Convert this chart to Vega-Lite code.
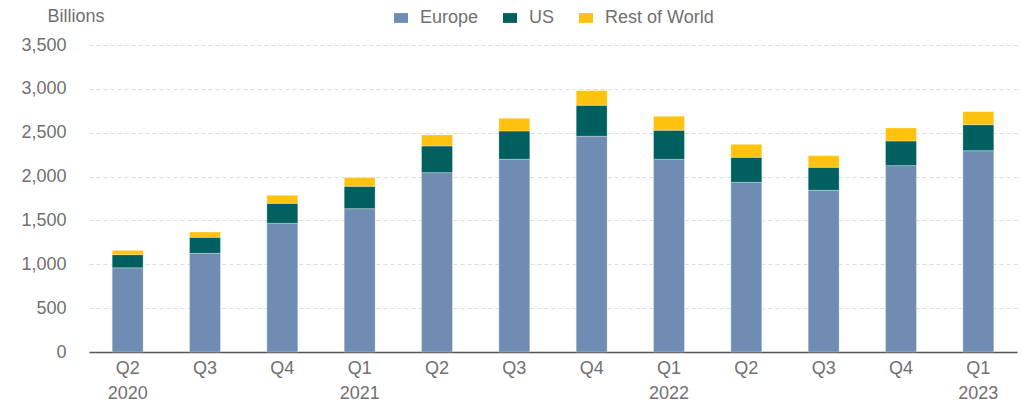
{
  "$schema": "https://vega.github.io/schema/vega-lite/v6.json",
  "width": 928,
  "height": 307,
  "autosize": {"type": "none"},
  "padding": {"left": 89, "top": 45, "right": 5, "bottom": 55},
  "config": {"view": {"stroke": null}, "font": "Liberation Sans"},
  "data": {
    "values": [
      {"period": "Q2 2020", "region": "Europe", "k": 1, "value": 960},
      {"period": "Q2 2020", "region": "US", "k": 2, "value": 150},
      {"period": "Q2 2020", "region": "Rest of World", "k": 3, "value": 48},
      {"period": "Q3 2020", "region": "Europe", "k": 1, "value": 1125},
      {"period": "Q3 2020", "region": "US", "k": 2, "value": 183},
      {"period": "Q3 2020", "region": "Rest of World", "k": 3, "value": 60},
      {"period": "Q4 2020", "region": "Europe", "k": 1, "value": 1467},
      {"period": "Q4 2020", "region": "US", "k": 2, "value": 228},
      {"period": "Q4 2020", "region": "Rest of World", "k": 3, "value": 92},
      {"period": "Q1 2021", "region": "Europe", "k": 1, "value": 1634},
      {"period": "Q1 2021", "region": "US", "k": 2, "value": 255},
      {"period": "Q1 2021", "region": "Rest of World", "k": 3, "value": 99},
      {"period": "Q2 2021", "region": "Europe", "k": 1, "value": 2045},
      {"period": "Q2 2021", "region": "US", "k": 2, "value": 304},
      {"period": "Q2 2021", "region": "Rest of World", "k": 3, "value": 125},
      {"period": "Q3 2021", "region": "Europe", "k": 1, "value": 2197},
      {"period": "Q3 2021", "region": "US", "k": 2, "value": 323},
      {"period": "Q3 2021", "region": "Rest of World", "k": 3, "value": 145},
      {"period": "Q4 2021", "region": "Europe", "k": 1, "value": 2460},
      {"period": "Q4 2021", "region": "US", "k": 2, "value": 353},
      {"period": "Q4 2021", "region": "Rest of World", "k": 3, "value": 167},
      {"period": "Q1 2022", "region": "Europe", "k": 1, "value": 2197},
      {"period": "Q1 2022", "region": "US", "k": 2, "value": 331},
      {"period": "Q1 2022", "region": "Rest of World", "k": 3, "value": 160},
      {"period": "Q2 2022", "region": "Europe", "k": 1, "value": 1935},
      {"period": "Q2 2022", "region": "US", "k": 2, "value": 285},
      {"period": "Q2 2022", "region": "Rest of World", "k": 3, "value": 148},
      {"period": "Q3 2022", "region": "Europe", "k": 1, "value": 1844},
      {"period": "Q3 2022", "region": "US", "k": 2, "value": 262},
      {"period": "Q3 2022", "region": "Rest of World", "k": 3, "value": 132},
      {"period": "Q4 2022", "region": "Europe", "k": 1, "value": 2125},
      {"period": "Q4 2022", "region": "US", "k": 2, "value": 281},
      {"period": "Q4 2022", "region": "Rest of World", "k": 3, "value": 148},
      {"period": "Q1 2023", "region": "Europe", "k": 1, "value": 2295},
      {"period": "Q1 2023", "region": "US", "k": 2, "value": 297},
      {"period": "Q1 2023", "region": "Rest of World", "k": 3, "value": 148}
    ]
  },
  "mark": {"type": "bar", "stroke": "#ffffff", "strokeWidth": 0.6, "strokeOpacity": 0.5},
  "encoding": {
    "x": {
      "field": "period",
      "type": "ordinal",
      "sort": null,
      "scale": {"paddingInner": 0.6, "paddingOuter": 0.3},
      "axis": {
        "title": null,
        "labelAngle": 0,
        "labelExpr": "split(datum.label, ' ')[0] == 'Q1' || datum.label == 'Q2 2020' ? split(datum.label, ' ') : split(datum.label, ' ')[0]",
        "labelFontSize": 18,
        "labelColor": "#707070",
        "labelPadding": 7,
        "labelLineHeight": 25,
        "ticks": false,
        "domainColor": "#555555",
        "domainWidth": 1.5,
        "grid": false
      }
    },
    "y": {
      "field": "value",
      "type": "quantitative",
      "stack": "zero",
      "scale": {"domain": [0, 3500], "nice": false},
      "axis": {
        "title": "Billions",
        "titleAngle": 0,
        "titleAlign": "left",
        "titleBaseline": "alphabetic",
        "titleX": -42,
        "titleY": -24,
        "titleFontSize": 18,
        "titleFontWeight": "normal",
        "titleColor": "#707070",
        "values": [0, 500, 1000, 1500, 2000, 2500, 3000, 3500],
        "format": ",d",
        "labelFontSize": 18,
        "labelColor": "#707070",
        "labelPadding": 23,
        "domain": false,
        "ticks": false,
        "gridDash": [4, 3],
        "gridColor": "#dddddd",
        "gridWidth": 1
      }
    },
    "color": {
      "field": "region",
      "type": "nominal",
      "scale": {"domain": ["Europe", "US", "Rest of World"], "range": ["#6F8DB2", "#00605F", "#FFC20E"]},
      "legend": {
        "title": null,
        "orient": "none",
        "legendX": 303,
        "legendY": -36,
        "direction": "horizontal",
        "symbolType": "M-1,-0.7L1,-0.7L1,0.7L-1,0.7Z",
        "symbolSize": 196,
        "symbolStrokeWidth": 0,
        "labelFontSize": 18,
        "labelColor": "#707070",
        "labelOffset": 10,
        "columnPadding": 22
      }
    },
    "order": {"field": "k", "type": "quantitative"}
  }
}
